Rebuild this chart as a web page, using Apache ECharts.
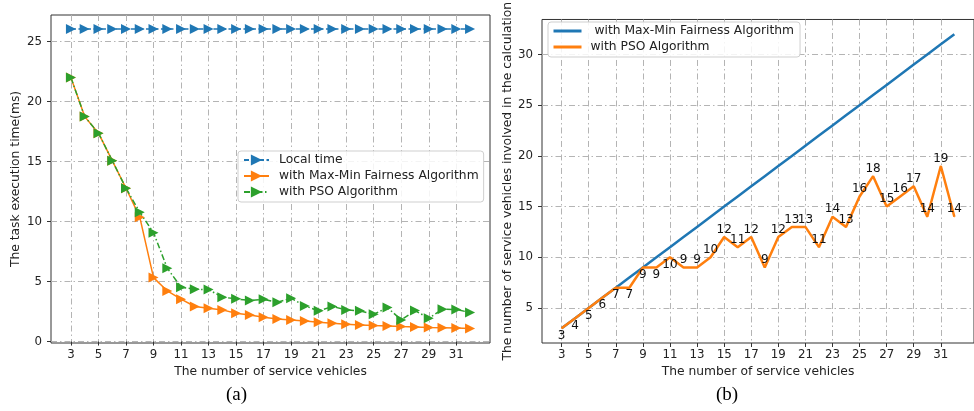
<!DOCTYPE html>
<html>
<head>
<meta charset="utf-8">
<script src="https://cdn.jsdelivr.net/npm/echarts@6/dist/echarts.min.js"></script>
<style>
  html, body { margin: 0; padding: 0; background: #fff; }
  #chart { width: 974px; height: 411px; }
</style>
</head>
<body>
<div id="chart"></div>
<script>
// x axis: number of service vehicles
const vehicles = [3, 4, 5, 6, 7, 8, 9, 10, 11, 12, 13, 14, 15, 16, 17, 18, 19, 20, 21, 22, 23, 24, 25, 26, 27, 28, 29, 30, 31, 32];

// (a) task execution time (ms)
const localTime = [26.05, 26.05, 26.05, 26.05, 26.05, 26.05, 26.05, 26.05, 26.05, 26.05, 26.05, 26.05, 26.05, 26.05, 26.05,
                   26.05, 26.05, 26.05, 26.05, 26.05, 26.05, 26.05, 26.05, 26.05, 26.05, 26.05, 26.05, 26.05, 26.05, 26.05];
const maxMinTime = [22, 18.75, 17.37, 15.08, 12.78, 10.37, 5.33, 4.22, 3.53, 2.92, 2.78, 2.64, 2.36, 2.22, 2.03,
                    1.89, 1.80, 1.72, 1.61, 1.53, 1.45, 1.39, 1.33, 1.30, 1.25, 1.22, 1.17, 1.15, 1.12, 1.08];
const psoTime = [22, 18.75, 17.37, 15.08, 12.78, 10.78, 9.08, 6.11, 4.53, 4.36, 4.33, 3.70, 3.56, 3.42, 3.52,
                 3.28, 3.61, 2.97, 2.56, 2.92, 2.64, 2.56, 2.28, 2.83, 1.80, 2.58, 1.95, 2.69, 2.67, 2.42];

// (b) number of service vehicles involved in the calculation
const maxMinCount = [3, 4, 5, 6, 7, 8, 9, 10, 11, 12, 13, 14, 15, 16, 17, 18, 19, 20, 21, 22, 23, 24, 25, 26, 27, 28, 29, 30, 31, 32];
const psoCount = [3, 4, 5, 6, 7, 7, 9, 9, 10, 9, 9, 10, 12, 11, 12, 9, 12, 13, 13, 11, 14, 13, 16, 18, 15, 16, 17, 14, 19, 14];

// tick labels
const xTicks = [3, 5, 7, 9, 11, 13, 15, 17, 19, 21, 23, 25, 27, 29, 31];
const yTicksA = [0, 5, 10, 15, 20, 25];
const yTicksB = [5, 10, 15, 20, 25, 30];

const FONT = 'DejaVu Sans';
const gridDash = [6, 3, 1.5, 3];

function pairs(ys) {
  return vehicles.map((x, i) => [x, ys[i]]);
}

function xAxisOf(idx, min, max) {
  return {
    type: 'value', gridIndex: idx, min: min, max: max,
    name: 'The number of service vehicles', nameLocation: 'middle', nameGap: 22,
    nameTextStyle: { fontFamily: FONT, fontSize: 12.3, color: '#222' },
    axisLine: { show: false },
    axisTick: { show: true, length: 4, customValues: xTicks, lineStyle: { color: '#333' } },
    axisLabel: { customValues: xTicks, margin: 6, fontFamily: FONT, fontSize: 11.8, color: '#222' },
    splitLine: { show: true, lineStyle: { color: '#b4b4b4', width: 1, type: gridDash } }
  };
}

function yAxisOf(idx, min, max, ticks, name, gap) {
  return {
    type: 'value', gridIndex: idx, min: min, max: max,
    name: name, nameLocation: 'middle', nameGap: gap,
    nameTextStyle: { fontFamily: FONT, fontSize: 12.3, color: '#222' },
    axisLine: { show: false },
    axisTick: { show: true, length: 4, customValues: ticks, lineStyle: { color: '#333' } },
    axisLabel: { customValues: ticks, margin: 9, fontFamily: FONT, fontSize: 11.8, color: '#222' },
    splitLine: { show: true, lineStyle: { color: '#b4b4b4', width: 1, type: gridDash } }
  };
}

const tri = { symbol: 'triangle', symbolRotate: -90, symbolSize: 10 };

const countLabels = psoCount.map((v, i) => ({
  value: [vehicles[i], v],
  label: { position: i < 9 ? 'bottom' : 'top' }
}));

const chart = echarts.init(document.getElementById('chart'), null, { renderer: 'canvas' });

chart.setOption({
  animation: false,
  backgroundColor: '#fff',
  grid: [
    { left: 51, top: 15, width: 439, height: 328, show: true, borderColor: '#333', borderWidth: 1, backgroundColor: 'transparent' },
    { left: 542, top: 15, width: 439, height: 328, show: true, borderColor: '#333', borderWidth: 1, backgroundColor: 'transparent' }
  ],
  xAxis: [xAxisOf(0, 1.55, 33.45), xAxisOf(1, 1.55, 33.45)],
  yAxis: [
    yAxisOf(0, -0.12, 27.22, yTicksA, 'The task execution time(ms)', 29),
    yAxisOf(1, 1.55, 33.45, yTicksB, 'The number of service vehicles involved in the calculation', 27)
  ],
  legend: [
    {
      orient: 'vertical', left: 238, top: 151,
      data: ['Local time', 'with Max-Min Fairness Algorithm', 'with PSO Algorithm'],
      itemWidth: 25, itemHeight: 14, itemGap: 4,
      padding: [3, 5, 4, 5],
      backgroundColor: 'rgba(255,255,255,0.85)', borderColor: '#cfcfcf', borderWidth: 1, borderRadius: 3,
      textStyle: { fontFamily: FONT, fontSize: 12.3, color: '#222', padding: [0, 0, 0, 5] }
    },
    {
      orient: 'vertical', left: 548, top: 22,
      data: [' with Max-Min Fairness Algorithm', 'with PSO Algorithm '],
      itemWidth: 28, itemHeight: 14, itemGap: 4,
      padding: [3, 6, 4, 4],
      itemStyle: { opacity: 0 },
      lineStyle: { width: 3 },
      backgroundColor: 'rgba(255,255,255,0.85)', borderColor: '#cfcfcf', borderWidth: 1, borderRadius: 3,
      textStyle: { fontFamily: FONT, fontSize: 12.3, color: '#222', padding: [0, 0, 0, 4] }
    }
  ],
  series: [
    Object.assign({
      name: 'Local time', type: 'line', xAxisIndex: 0, yAxisIndex: 0,
      data: pairs(localTime), color: '#1f77b4',
      lineStyle: { width: 1.5, type: [5, 2.5] }
    }, tri),
    Object.assign({
      name: 'with Max-Min Fairness Algorithm', type: 'line', xAxisIndex: 0, yAxisIndex: 0,
      data: pairs(maxMinTime), color: '#ff7f0e',
      lineStyle: { width: 1.5 }
    }, tri),
    Object.assign({
      name: 'with PSO Algorithm', type: 'line', xAxisIndex: 0, yAxisIndex: 0,
      data: pairs(psoTime), color: '#2ca02c',
      lineStyle: { width: 1.5, type: [6, 2.5, 1.5, 2.5] }
    }, tri),
    {
      name: ' with Max-Min Fairness Algorithm', type: 'line', xAxisIndex: 1, yAxisIndex: 1,
      data: pairs(maxMinCount), color: '#1f77b4', symbol: 'none',
      lineStyle: { width: 2.5 }
    },
    {
      name: 'with PSO Algorithm ', type: 'line', xAxisIndex: 1, yAxisIndex: 1,
      data: countLabels, color: '#ff7f0e', symbol: 'circle', symbolSize: 1,
      lineStyle: { width: 2.5 },
      label: {
        show: true, distance: 1, fontFamily: FONT, fontSize: 12, color: '#111',
        formatter: p => p.value[1]
      },
      labelLayout: { hideOverlap: false }
    }
  ],
  graphic: [
    { type: 'text', left: 226, top: 386, style: { text: '(a)', fontFamily: 'Liberation Serif', fontSize: 19, fill: '#000' } },
    { type: 'text', left: 716, top: 386, style: { text: '(b)', fontFamily: 'Liberation Serif', fontSize: 19, fill: '#000' } }
  ]
});
</script>
</body>
</html>
